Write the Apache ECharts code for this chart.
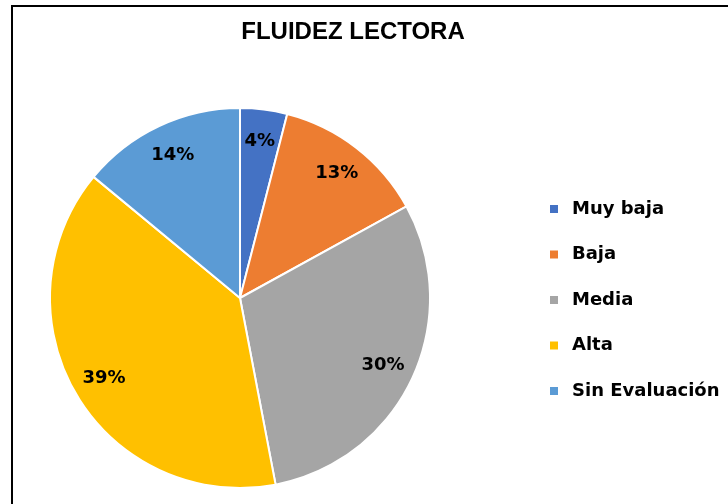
<!DOCTYPE html>
<html>
<head>
<meta charset="utf-8">
<script src="https://cdn.jsdelivr.net/npm/echarts@6/dist/echarts.min.js"></script>
<style>
	html, body { margin: 0; padding: 0; background: #fff; }
	#chart { width: 728px; height: 504px; }
</style>
</head>
<body>
<div id="chart"></div>
<script>
var categories = ['Muy baja', 'Baja', 'Media', 'Alta', 'Sin Evaluación'];
var values = [4, 13, 30, 39, 14];
var colors = ['#4472C4', '#ED7D31', '#A5A5A5', '#FFC000', '#5B9BD5'];

var chart = echarts.init(document.getElementById('chart'));

var pieData = categories.map(function(name, i) {
	return { name: name, value: values[i], itemStyle: { color: colors[i] } };
});

var option = {
	animation: false,
	title: {
		text: 'FLUIDEZ LECTORA',
		left: 348,
		textAlign: 'center',
		top: 15,
		textStyle: {
			fontFamily: 'Liberation Sans',
			fontWeight: 'bold',
			fontSize: 24,
			color: '#000'
		}
	},
	legend: {
		orient: 'vertical',
		left: 543,
		top: 194,
		itemWidth: 10,
		itemHeight: 10,
		itemGap: 25.5,
		icon: 'rect',
		data: categories,
		textStyle: {
			fontFamily: 'DejaVu Sans',
			fontWeight: 'bold',
			fontSize: 18,
			lineHeight: 20,
			color: '#000',
			padding: [0, 0, 0, 8]
		}
	},
	graphic: [{
		type: 'rect',
		shape: { x: 12, y: 6, width: 800, height: 600 },
		style: { fill: 'none', stroke: '#000', lineWidth: 2 },
		silent: true
	}],
	series: [{
		name: 'FLUIDEZ LECTORA',
		type: 'pie',
		center: [240, 298],
		radius: 190,
		startAngle: 90,
		clockwise: true,
		data: pieData,
		itemStyle: { borderColor: '#fff', borderWidth: 2 },
		label: { show: false },
		labelLine: { show: false }
	}, {
		name: 'labels',
		type: 'pie',
		center: [240, 298],
		radius: [130, 180],
		startAngle: 90,
		clockwise: true,
		silent: true,
		data: categories.map(function(name, i) {
			return { name: name, value: values[i] };
		}),
		itemStyle: { color: 'rgba(0,0,0,0)', borderWidth: 0 },
		label: {
			show: true,
			position: 'inside',
			formatter: '{d}%',
			fontFamily: 'DejaVu Sans',
			fontWeight: 'bold',
			fontSize: 18,
			color: '#000'
		},
		labelLine: { show: false }
	}]
};
chart.setOption(option);
</script>
</body>
</html>
